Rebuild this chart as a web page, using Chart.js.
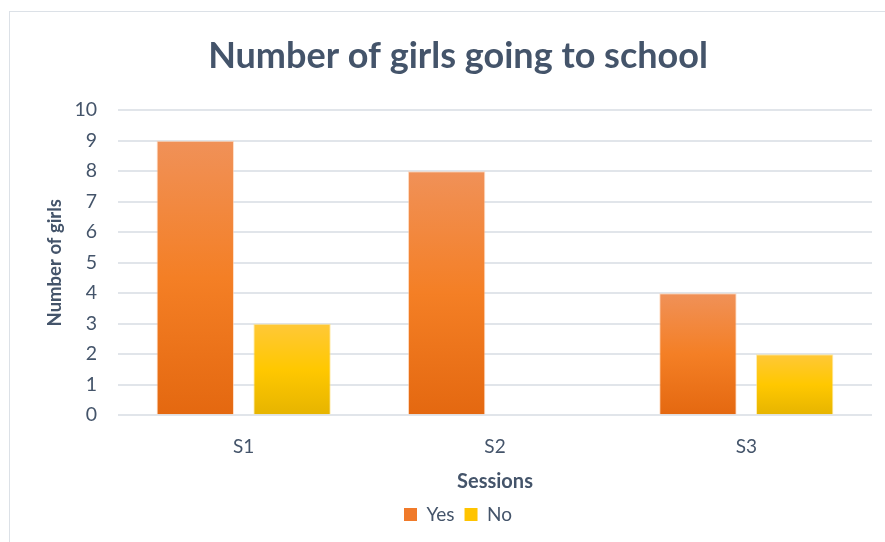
<!DOCTYPE html>
<html>
<head>
<meta charset="utf-8">
<script src="https://cdn.jsdelivr.net/npm/chart.js@4/dist/chart.umd.min.js"></script>
<style>
  html, body { margin: 0; padding: 0; background: #fff; }
  #wrap { position: relative; width: 885px; height: 542px; }
  #frame { position: absolute; left: 9px; top: 11px; width: 900px; height: 600px;
           border-left: 1px solid #DCE1E7; border-top: 1px solid #DCE1E7; }
  #chart { position: absolute; left: 0; top: 0; }
</style>
</head>
<body>
<div id="wrap">
  <div id="frame"></div>
  <canvas id="chart" width="885" height="542"></canvas>
</div>
<script>
const sessions = ['S1', 'S2', 'S3'];
const yesValues = [9, 8, 4];
const noValues = [3, 0, 2];

const textColor = '#44546A';
const fontName = 'Lato, "Open Sans", sans-serif';

function barGradient(stops) {
  return function (context) {
    const chart = context.chart;
    if (!chart.chartArea || context.parsed === undefined) return stops[1];
    const y = chart.scales.y;
    const top = y.getPixelForValue(context.parsed.y);
    const bottom = y.getPixelForValue(0);
    if (!isFinite(top) || top === bottom) return stops[1];
    const g = chart.ctx.createLinearGradient(0, top, 0, bottom);
    g.addColorStop(0, stops[0]);
    g.addColorStop(0.5, stops[1]);
    g.addColorStop(1, stops[2]);
    return g;
  };
}

const ctx = document.getElementById('chart');
const mainChart = new Chart(ctx, {
  type: 'bar',
  data: {
    labels: sessions,
    datasets: [
      {
        label: 'Yes',
        data: yesValues,
        backgroundColor: barGradient(['#F09158', '#F47F25', '#E46810']),
        borderColor: 'rgba(255,200,160,0.6)',
        borderWidth: 1,
        categoryPercentage: 0.77,
        barPercentage: 0.8,
      },
      {
        label: 'No',
        data: noValues,
        backgroundColor: barGradient(['#FFC838', '#FFC800', '#E6B400']),
        borderColor: 'rgba(255,225,120,0.6)',
        borderWidth: 1,
        categoryPercentage: 0.77,
        barPercentage: 0.8,
      },
    ],
  },
  options: {
    responsive: false,
    animation: false,
    layout: { padding: { left: 44, right: 13, top: 35, bottom: 8 } },
    plugins: {
      title: {
        display: true,
        text: 'Number of girls going to school',
        color: textColor,
        font: { family: fontName, size: 36, weight: 'bold' },
        padding: { top: 0, bottom: 32 },
      },
      legend: {
        position: 'bottom',
        labels: {
          color: textColor,
          font: { family: fontName, size: 19 },
          boxWidth: 13,
          boxHeight: 13,
          padding: 10,
          generateLabels: function (chart) {
            const cols = ['#F07A2A', '#FFC400'];
            return chart.data.datasets.map((ds, i) => ({
              text: ds.label,
              fillStyle: cols[i],
              strokeStyle: cols[i],
              lineWidth: 0,
              fontColor: textColor,
              datasetIndex: i,
            }));
          },
        },
      },
      tooltip: { enabled: false },
    },
    scales: {
      x: {
        grid: { display: false },
        border: { display: false },
        ticks: { color: textColor, font: { family: fontName, size: 19 }, padding: 12 },
        title: {
          display: true,
          text: 'Sessions',
          color: textColor,
          font: { family: fontName, size: 20, weight: 'bold' },
          padding: { top: 0, bottom: 1 },
        },
      },
      y: {
        min: 0,
        max: 10,
        afterFit: function (scale) { scale.width = 74; },
        grid: { color: '#E1E5EA', lineWidth: 2, drawTicks: false },
        border: { display: false },
        ticks: { stepSize: 1, color: textColor, font: { family: fontName, size: 19.5 }, padding: 21 },
        title: {
          display: true,
          text: 'Number of girls',
          color: textColor,
          font: { family: fontName, size: 18.5, weight: 'bold' },
          padding: { top: 0, bottom: 10 },
        },
      },
    },
  },
});
</script>
</body>
</html>
